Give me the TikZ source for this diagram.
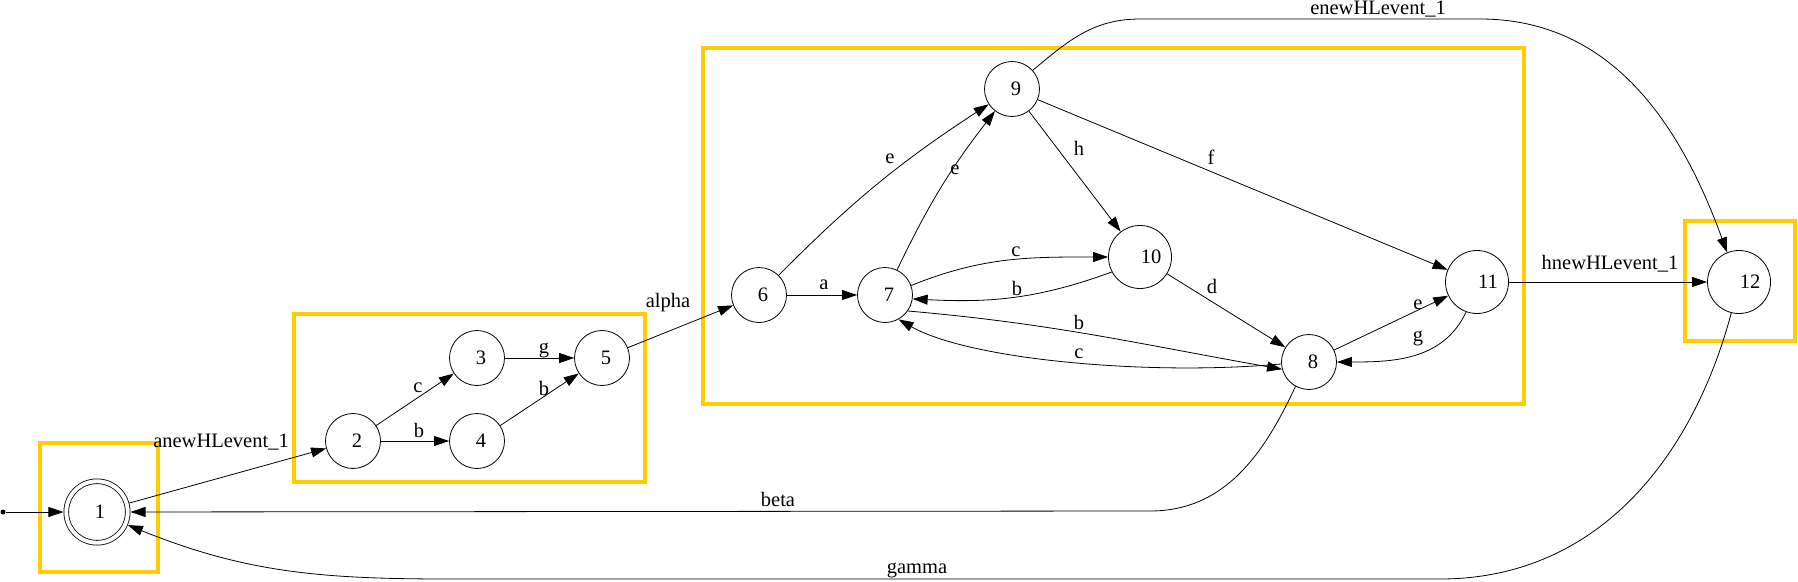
\documentclass[tikz,border=0pt]{standalone}
\usepackage{fontspec}
\setmainfont{Liberation Serif}
\usetikzlibrary{arrows.meta}
\definecolor{groupyellow}{RGB}{255,204,0}

\begin{document}
\begin{tikzpicture}[
      x=1pt, y=-1pt,
      font=\fontsize{20.5}{24}\selectfont,
      every node/.style={inner sep=0pt},
      circ/.style={draw, circle, line width=0.8pt},
      state/.style={circ, minimum size=55pt, execute at begin node={\hspace*{8pt}}},
      wide state/.style={circ, minimum size=63pt, execute at begin node={\hspace*{22pt}}},
      accept/.style={circ, double, double distance=3.9pt, minimum size=61.5pt, outer sep=2.8pt,
        execute at begin node={\hspace*{6pt}}},
      trans/.style={draw, line width=0.8pt, -{Triangle[length=15pt,width=10pt]}},
      lbl/.style={inner sep=1pt},
      group/.style={draw=groupyellow, line width=4pt},]
      \useasboundingbox (0,0) rectangle (1798,581);

      % groups
      \draw[group] (40,443) rectangle (158,572);
      \draw[group] (294,314) rectangle (645,482);
      \draw[group] (703,48) rectangle (1524,404);
      \draw[group] (1685,221) rectangle (1795,341);

      % states
      \node[circle, fill, minimum size=5pt] (start) at (3,512) {};
      \node[accept] (n1) at (97,512) {1};
      \node[state] (n2) at (353,441) {2};
      \node[state] (n3) at (477,358) {3};
      \node[state] (n4) at (477,441) {4};
      \node[state] (n5) at (602,358) {5};
      \node[state] (n6) at (759,295) {6};
      \node[state] (n7) at (885,295) {7};
      \node[state] (n9) at (1012,89) {9};
      \node[wide state] (n10) at (1140,257) {10};
      \node[state] (n8) at (1309,362) {8};
      \node[wide state] (n11) at (1477,282) {11};
      \node[wide state] (n12) at (1739,282) {12};

      \coordinate (top1) at (1140,19);
      \coordinate (top2) at (1480,19);
      \coordinate (bot1) at (1150,511);
      \coordinate (gam1) at (1440,579);
      \coordinate (gam2) at (450,579);

      % transitions
      \draw[trans] (start) -- (n1);
      \draw[trans] (n1) -- (n2) node[lbl] at (221,442) {anewHLevent\_1};
      \draw[trans] (n2) -- (n3) node[lbl] at (418,388) {c};
      \draw[trans] (n2) -- (n4) node[lbl] at (419,430) {b};
      \draw[trans] (n3) -- (n5) node[lbl] at (544,350) {g};
      \draw[trans] (n4) -- (n5) node[lbl] at (544,388) {b};
      \draw[trans] (n5) -- (n6) node[lbl] at (668,303) {alpha};
      \draw[trans] (n6) -- (n7) node[lbl] at (824,285) {a};
      \draw[trans] (n6) to[bend left=6] (n9) node[lbl] at (890,159) {e};
      \draw[trans] (n7) to[bend left=6] (n9) node[lbl] at (955,170) {e};
      \draw[trans] (n9) -- (n10) node[lbl] at (1079,148) {h};
      \draw[trans] (n9) -- (n11) node[lbl] at (1211,157) {f};
      \draw[trans] (n7.20) to[out=22,in=180] (n10.180) node[lbl] at (1016,252) {c};
      \draw[trans] (n10.208) to[out=200,in=-3] (n7.-8) node[lbl] at (1017,288) {b};
      \draw[trans] (n10) -- (n8) node[lbl] at (1212,286) {d};
      \draw[trans] (n7.-35) to[out=-5,in=170] (n8.195) node[lbl] at (1079,322) {b};
      \draw[trans] (n8.184) .. controls (1150,376) and (970,360) .. (n7.-61) node[lbl] at (1079,354) {c};
      \draw[trans] (n8) -- (n11) node[lbl] at (1418,305) {e};
      \draw[trans] (n11.-110) to[out=-115,in=0] (n8.0) node[lbl] at (1418,338) {g};
      \draw[trans] (n11) -- (n12) node[lbl] at (1610,264) {hnewHLevent\_1};
      \draw[trans] (n9.42) to[out=40,in=180] (top1) -- (top2) to[out=0,in=110] (n12.112)
        node[lbl] at (1378,9) {enewHLevent\_1};
      \draw[trans] (n8.-119) to[out=-115,in=0] (bot1) -- (n1) node[lbl] at (778,499) {beta};
      \draw[trans] (n12.-104) to[out=-105,in=0] (gam1) -- (gam2) to[out=180,in=-22] (n1.-23)
        node[lbl] at (917,570) {gamma};
\end{tikzpicture}
\end{document}
